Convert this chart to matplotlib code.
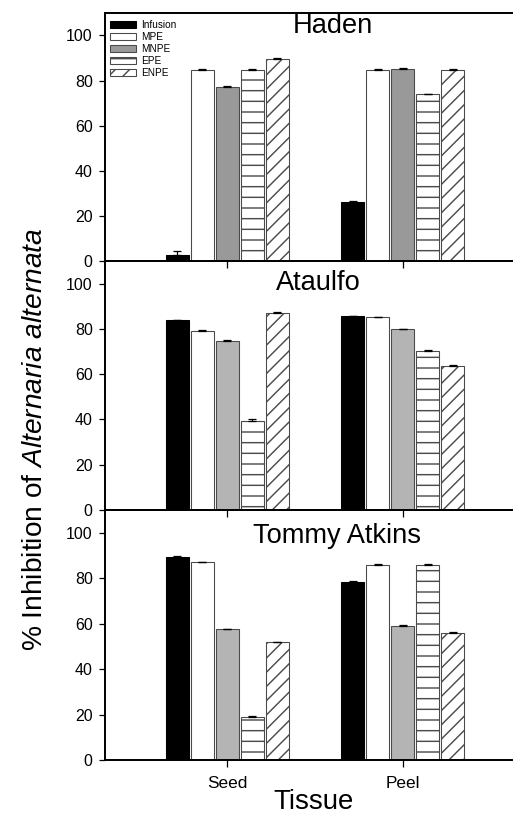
import numpy as np
import matplotlib
matplotlib.use("Agg")
import matplotlib.pyplot as plt

plt.rcParams["font.family"] = "Liberation Sans"
plt.rcParams["mathtext.fontset"] = "custom"
plt.rcParams["mathtext.rm"] = "Liberation Sans"
plt.rcParams["mathtext.it"] = "Liberation Sans:italic"
plt.rcParams["hatch.linewidth"] = 0.8

# --- data ---
tissues = ["Seed", "Peel"]
extracts = ["Infusion", "MPE", "MNPE", "EPE", "ENPE"]
cultivars = ["Haden", "Ataulfo", "Tommy Atkins"]

haden_vals = [[2.7, 84.8, 77.1, 84.8, 89.7],
              [26.0, 84.8, 85.1, 73.9, 84.8]]
haden_err = [[1.7, 0.2, 0.3, 0.5, 0.2],
             [0.6, 0.2, 0.4, 0.3, 0.2]]
ataulfo_vals = [[83.8, 79.2, 74.8, 39.1, 87.2],
                [85.5, 85.1, 79.8, 70.4, 63.7]]
ataulfo_err = [[0.2, 0.2, 0.2, 0.9, 0.3],
               [0.2, 0.3, 0.3, 0.2, 0.2]]
tommy_vals = [[89.4, 87.1, 57.5, 19.1, 51.9],
              [78.4, 85.9, 59.0, 85.9, 55.9]]
tommy_err = [[0.2, 0.2, 0.2, 0.2, 0.2],
             [0.2, 0.2, 0.2, 0.2, 0.2]]

panel_vals = [haden_vals, ataulfo_vals, tommy_vals]
panel_err = [haden_err, ataulfo_err, tommy_err]

# styles
face_colors = ["black", "white", "#999999", "white", "white"]
hatches = [None, None, None, "--", "///"]
mnpe_light = "#b4b4b4"
edge = "#4a4a4a"

DPI = 128.25
fig = plt.figure(figsize=(513 / DPI, 824 / DPI), dpi=DPI)

# axes rectangles (figure fraction)
rects = [
    [0.2047, 0.6833, 0.806, 0.3010],
    [0.2047, 0.3811, 0.806, 0.3022],
    [0.2047, 0.0777, 0.806, 0.3034],
]
title_pos = [(0.552, 0.948), (0.516, 0.912), (0.561, 0.896)]

x = np.arange(1, len(tissues) + 1)
slot = 0.143
width = 0.13

for p, name in enumerate(cultivars):
    ax = fig.add_axes(rects[p])
    ax.set_zorder(10 - p)
    ax.set_facecolor("none")
    vals = np.array(panel_vals[p])
    errs = np.array(panel_err[p])
    for i, ext in enumerate(extracts):
        fc = face_colors[i]
        if i == 2 and p > 0:
            fc = mnpe_light
        ax.bar(x + (i - 2) * slot, vals[:, i], width, color=fc,
               edgecolor=edge if i > 0 else "black", linewidth=0.6,
               hatch=hatches[i], label=ext,
               yerr=[np.zeros(len(tissues)), errs[:, i]],
               error_kw=dict(ecolor="black", elinewidth=0.7,
                             capsize=2.5, capthick=0.7))
    ax.set_ylim(0, 110)
    ax.set_xlim(0.303, 2.66)
    ax.set_yticks(np.arange(0, 101, 20))
    ax.tick_params(axis="y", direction="out", length=3.4, width=0.7,
                   labelsize=9, pad=3.5)
    ax.set_xticks(x)
    ax.tick_params(axis="x", direction="out", length=3.9, width=0.7,
                   labelsize=9.7, pad=5)
    if p < 2:
        ax.set_xticklabels([])
    else:
        ax.set_xticklabels(tissues)
    for s in ["left", "bottom", "top"]:
        ax.spines[s].set_linewidth(1.1)
    ax.spines["right"].set_visible(False)
    ax.text(title_pos[p][0], title_pos[p][1], name, transform=ax.transAxes,
            ha="center", va="center", fontsize=15.3)
    if p == 0:
        ax.legend(loc="upper left", bbox_to_anchor=(0.012, 0.972),
                  frameon=False, fontsize=5.6, handlelength=2.6,
                  handleheight=0.65, handletextpad=0.5, labelspacing=0.2,
                  borderpad=0, borderaxespad=0)

fig.text(35 / 513, 1 - 439 / 824,
         r"% Inhibition of $\it{Alternaria\ alternata}$",
         rotation=90, ha="center", va="center", fontsize=15.8)
fig.text(313 / 513, 1 - 802 / 824, "Tissue", ha="center", va="center",
         fontsize=15.5)

fig.savefig("out.png", dpi=DPI)
